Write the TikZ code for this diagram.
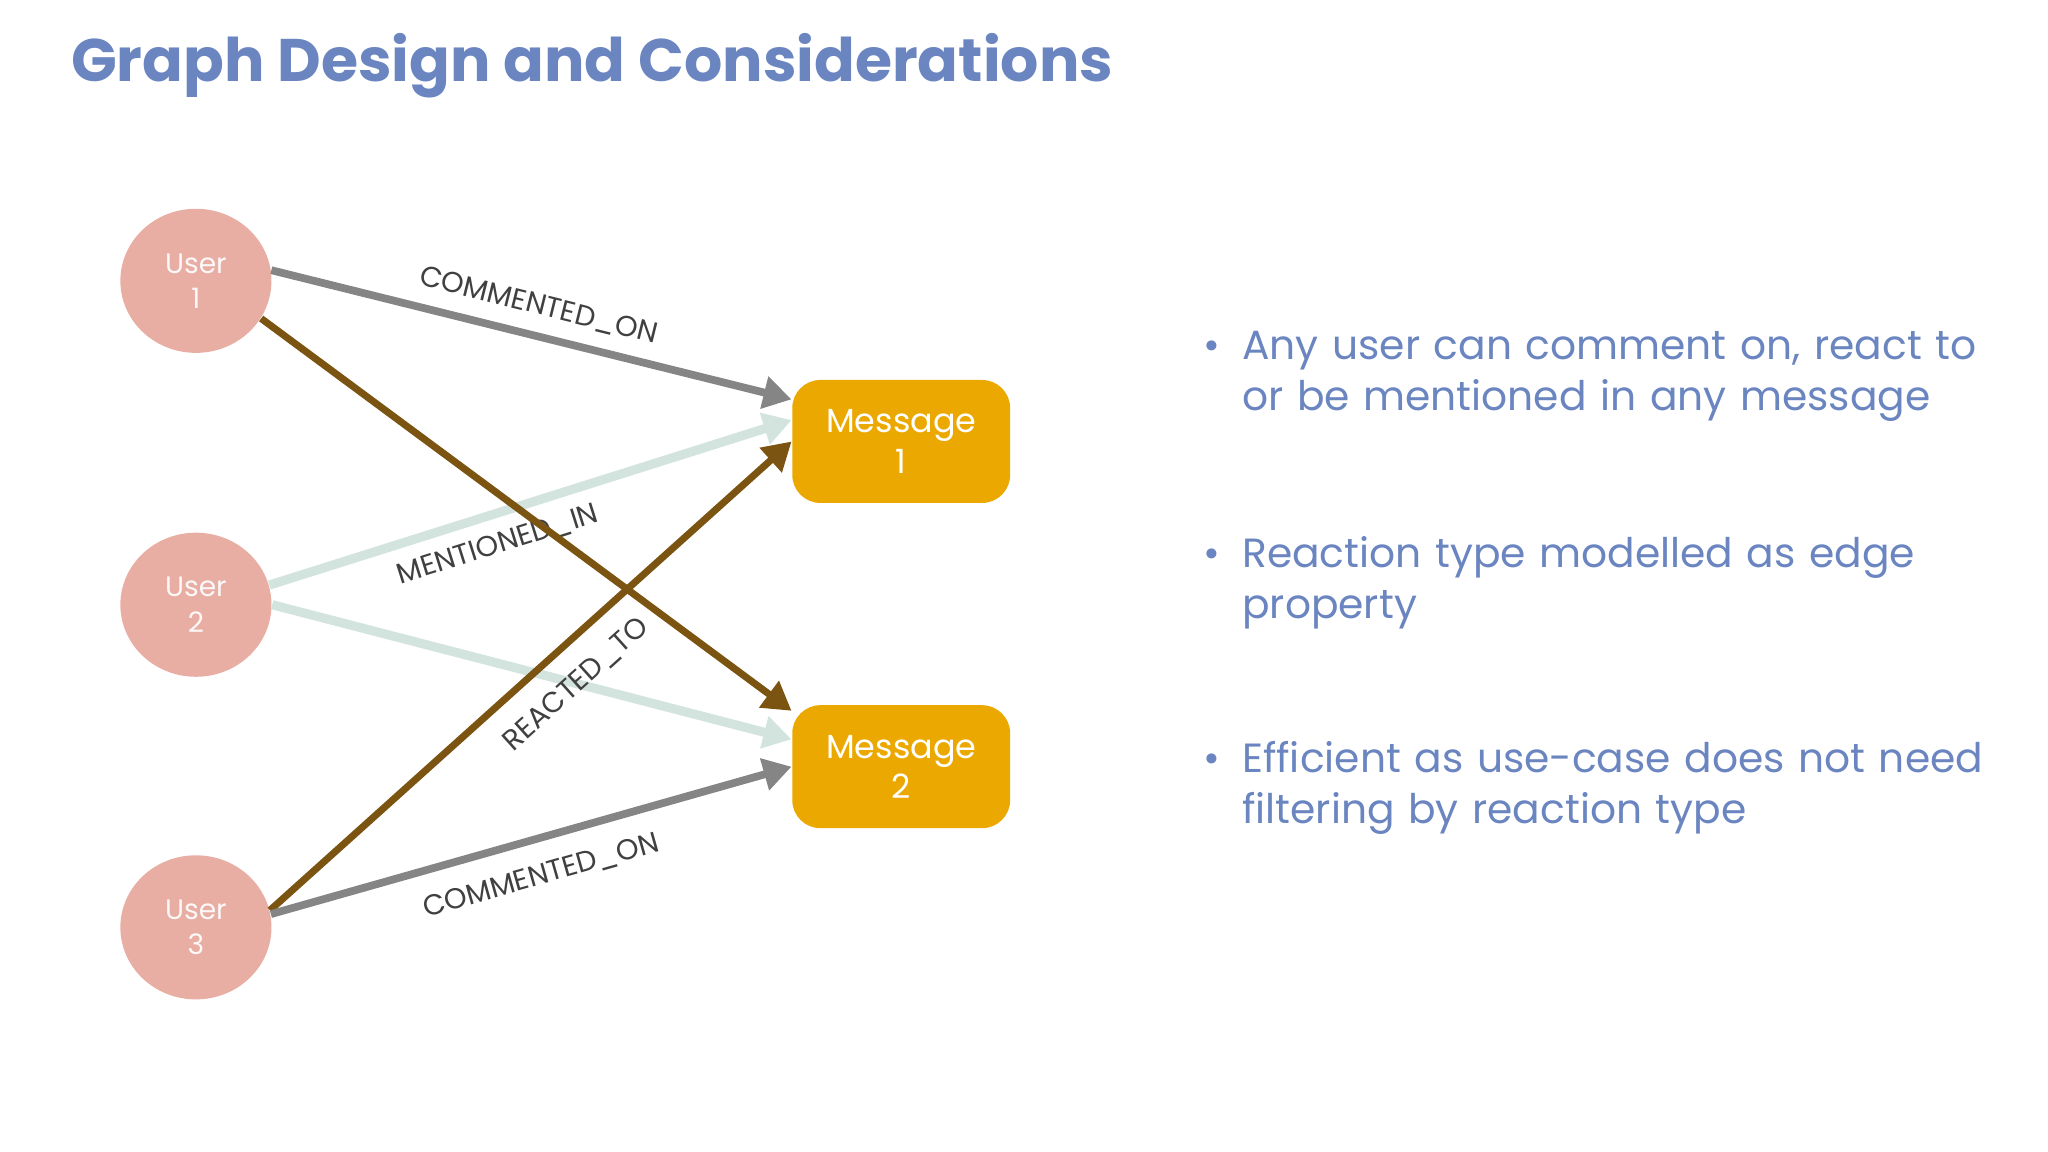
\documentclass[tikz,border=0pt]{standalone}
\usepackage{fontspec}
\setmainfont{Poppins}
\usetikzlibrary{arrows.meta,shapes.geometric}
\definecolor{titleblue}{HTML}{6A85C0}
\definecolor{userpink}{HTML}{E8ADA3}
\definecolor{msgorange}{HTML}{EBA800}
\definecolor{edgegray}{HTML}{858585}
\definecolor{edgebrown}{HTML}{7A5410}
\definecolor{edgelight}{HTML}{D3E4DF}
\tikzset{
 user/.style={ellipse, fill=userpink, minimum width=43pt, minimum height=41pt, inner sep=0pt, text=white!92!userpink, font=\fontsize{8}{10}\selectfont, align=center},
 msg/.style={rectangle, rounded corners=8pt, fill=msgorange, minimum width=62pt, minimum height=35pt, text=white, font=\fontsize{9.5}{11.5}\selectfont, align=center},
 edge/.style={line width=#1, -{Triangle[length=8pt,width=9pt]}},
 lbl/.style={font=\fontsize{8.2}{9}\selectfont, text=black!75, sloped, inner sep=4pt},
 bullet/.style={anchor=north west, text=titleblue, font=\fontsize{11.6}{14.5}\selectfont, align=left, text width=240pt}
}
\begin{document}
\begin{tikzpicture}[x=0.01306cm, y=-0.01306cm]
\useasboundingbox (0,0) rectangle (1568,882);
\node[anchor=west, text=titleblue, font=\fontsize{17.1}{20}\selectfont\bfseries] (title) at (45,50) {Graph Design and Considerations};
\node[user] (u1) at (150,215) {User\\1};
\node[user] (u2) at (150,463) {User\\2};
\node[user] (u3) at (150,710) {User\\3};
\node[msg] (m1) at (690,338) {Message\\1};
\node[msg] (m2) at (690,587) {Message\\2};
\draw[edge=2.6pt, edgelight] (u2.15) -- node[lbl, below, pos=0.42] {MENTIONED\_IN} (m1.169);
\draw[edge=2.6pt, edgelight] (u2.0) -- (m2.166);
\draw[edge=2pt, edgebrown] (u1.-30) -- (m2.153);
\draw[edge=2pt, edgebrown] (u3.13) -- node[lbl, below, pos=0.54, inner sep=6pt] {REACTED\_TO} (m1.west);
\draw[edge=2.2pt, edgegray] (u1.8) -- node[lbl, above, pos=0.5] {COMMENTED\_ON} (m1.159);
\draw[edge=2.2pt, edgegray] (u3.10) -- node[lbl, below, pos=0.5, inner sep=6pt] {COMMENTED\_ON} (m2.west);
\node[bullet] (b1) at (912,244) {\makebox[11pt][l]{\textbullet}Any user can comment on, react to\\\hspace*{11pt}or be mentioned in any message};
\node[bullet] (b2) at (912,401) {\makebox[11pt][l]{\textbullet}Reaction type modelled as edge\\\hspace*{11pt}property};
\node[bullet] (b3) at (912,558) {\makebox[11pt][l]{\textbullet}Efficient as use-case does not need\\\hspace*{11pt}filtering by reaction type};
\end{tikzpicture}
\end{document}
